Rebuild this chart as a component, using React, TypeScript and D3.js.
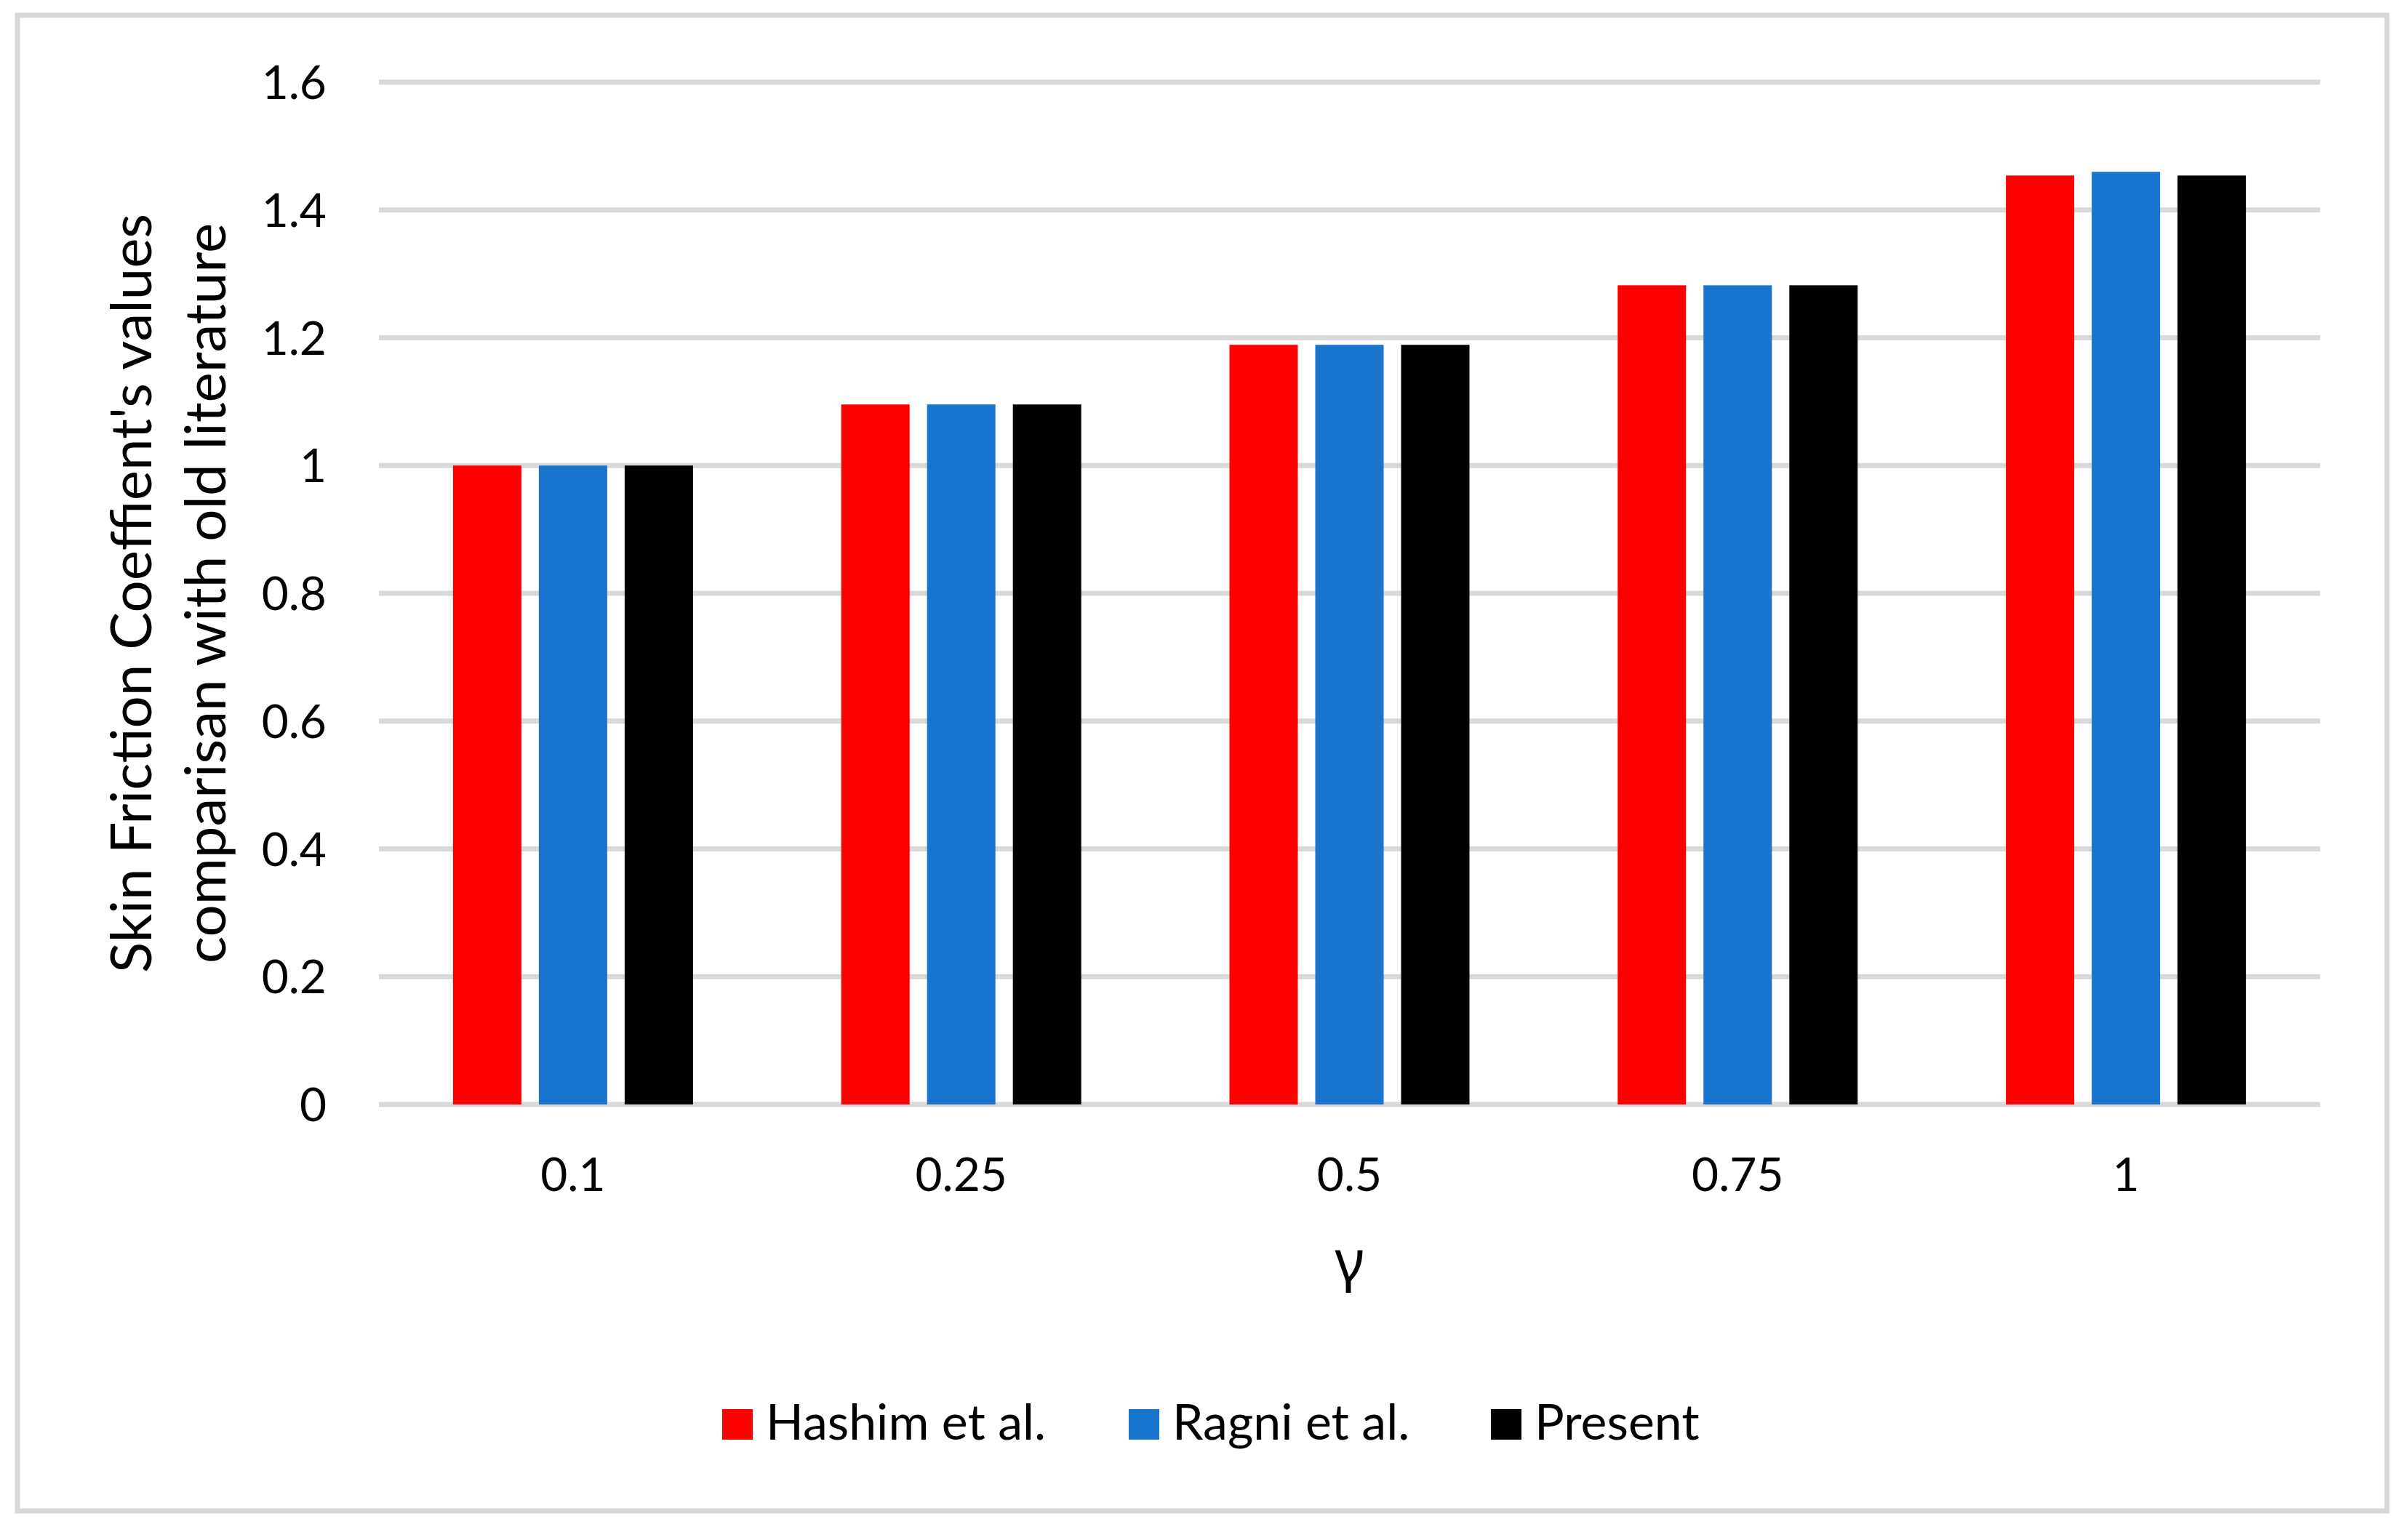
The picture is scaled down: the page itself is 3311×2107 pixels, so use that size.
import React from "react";
import * as d3 from "d3";

const categories = ["0.1", "0.25", "0.5", "0.75", "1"];
const seriesNames = ["Hashim et al.", "Ragni et al.", "Present"];
const hashim = [1.0, 1.0956, 1.1889, 1.2821, 1.4539];
const ragni = [1.0, 1.0956, 1.1889, 1.2821, 1.4596];
const present = [1.0, 1.0956, 1.1889, 1.2821, 1.4539];
const seriesColors = ["#FF0000", "#1874CC", "#000000"];
const yTicks = [0, 0.2, 0.4, 0.6, 0.8, 1, 1.2, 1.4, 1.6];
const yTitleLines = ["Skin Friction Coeffient's values", "comparisan with old literature"];
const xTitle = "γ";

const W = 3311;
const H = 2107;
const FONT = "Lato, Carlito, 'Open Sans', sans-serif";

export default function App() {
  const seriesValues = [hashim, ragni, present];
  const plot = { left: 521, right: 3190, top: 113, bottom: 1519 };

  const x0 = d3
    .scaleBand<string>()
    .domain(categories)
    .range([plot.left, plot.right])
    .paddingInner(0.3818)
    .paddingOuter(0.3818 / 2);
  const x1 = d3
    .scaleBand<string>()
    .domain(seriesNames)
    .range([0, x0.bandwidth()])
    .paddingInner(0.2034)
    .paddingOuter(0);
  const y = d3.scaleLinear().domain([0, 1.6]).range([plot.bottom, plot.top]);

  const legendX = [993, 1552, 2050];

  return (
    <svg
      width={W}
      height={H}
      viewBox={`0 0 ${W} ${H}`}
      style={{ position: "absolute", left: 0, top: 0, background: "#fff" }}
    >
      <rect x={0} y={0} width={W} height={H} fill="#fff" />
      <rect x={24} y={21} width={3258} height={2057} fill="#fff" stroke="#D9D9D9" strokeWidth={7} />

      {/* gridlines */}
      {yTicks.map((t) => (
        <line
          key={"g" + t}
          x1={plot.left}
          x2={plot.right}
          y1={y(t)}
          y2={y(t)}
          stroke="#D9D9D9"
          strokeWidth={7}
        />
      ))}

      {/* bars */}
      {categories.map((c, ci) => (
        <g key={c} transform={`translate(${x0(c)},0)`}>
          {seriesNames.map((s, si) => (
            <rect
              key={s}
              x={x1(s)}
              y={y(seriesValues[si][ci])}
              width={x1.bandwidth()}
              height={y(0) - y(seriesValues[si][ci])}
              fill={seriesColors[si]}
            />
          ))}
        </g>
      ))}

      {/* y tick labels */}
      {yTicks.map((t) => (
        <text
          key={"t" + t}
          x={449}
          y={y(t) + 23}
          textAnchor="end"
          fontFamily={FONT}
          fontSize={64}
          fill="#000"
        >
          {d3.format("~g")(t)}
        </text>
      ))}

      {/* x tick labels */}
      {categories.map((c) => (
        <text
          key={"x" + c}
          x={(x0(c) as number) + x0.bandwidth() / 2}
          y={1638}
          textAnchor="middle"
          fontFamily={FONT}
          fontSize={64}
          fill="#000"
        >
          {c}
        </text>
      ))}

      {/* x title */}
      <text
        x={(plot.left + plot.right) / 2}
        y={1761}
        textAnchor="middle"
        fontFamily="'Noto Sans', 'Open Sans', sans-serif"
        fontSize={78}
        fill="#000"
      >
        {xTitle}
      </text>

      {/* y title */}
      {yTitleLines.map((line, i) => (
        <text
          key={"yt" + i}
          transform={`translate(${208 + i * 102},${(plot.top + plot.bottom) / 2}) rotate(-90)`}
          textAnchor="middle"
          fontFamily={FONT}
          fontSize={78}
          fill="#000"
        >
          {line}
        </text>
      ))}

      {/* legend */}
      {seriesNames.map((s, i) => (
        <g key={"l" + s}>
          <rect x={legendX[i]} y={1938} width={42} height={42} fill={seriesColors[i]} />
          <text
            x={legendX[i] + 60}
            y={1980}
            fontFamily={FONT}
            fontSize={68}
            fill="#000"
          >
            {s}
          </text>
        </g>
      ))}
    </svg>
  );
}
